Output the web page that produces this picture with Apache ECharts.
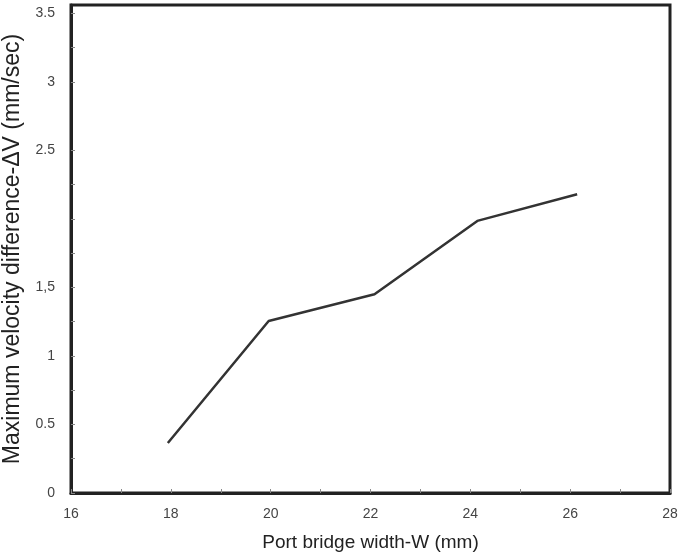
<!DOCTYPE html>
<html>
<head>
<meta charset="utf-8">
<script src="https://cdn.jsdelivr.net/npm/echarts@6/dist/echarts.min.js"></script>
<style>html,body{margin:0;padding:0;background:#fff}#c{width:685px;height:559px}</style>
</head>
<body>
<div id="c"></div>
<script>
const widths = [17.94, 19.96, 22.08, 24.14, 26.14];
const velocityDiff = [0.365, 1.255, 1.45, 1.985, 2.18];
const xTickLabels = [16, 18, 20, 22, 24, 26, 28];
const yTickValues = [0, 0.25, 0.5, 0.75, 1, 1.25, 1.5, 1.75, 2, 2.25, 2.5, 3, 3.25, 3.5];
const yLabelValues = [0, 0.5, 1, 1.5, 2.5, 3, 3.5];
const yLabelText = {0:'0', 0.5:'0.5', 1:'1', 1.5:'1,5', 2.5:'2.5', 3:'3', 3.5:'3.5'};

const chart = echarts.init(document.getElementById('c'));
const font = 'Liberation Sans, Arial, sans-serif';
chart.setOption({
  animation: false,
  grid: {left: 71, right: 15, top: 5, bottom: 66, containLabel: false, outerBoundsMode: 'none',
    show: true, borderColor: '#222', borderWidth: 3, backgroundColor: 'transparent'},
  xAxis: {
    type: 'value', min: 16, max: 28, interval: 1,
    name: 'Port bridge width-W (mm)', nameLocation: 'middle', nameGap: 40,
    nameTextStyle: {fontSize: 19, color: '#222', fontFamily: font},
    axisLine: {show: true, lineStyle: {color: '#222', width: 3}},
    axisTick: {show: true, inside: true, length: 4, lineStyle: {color: '#888', width: 1}},
    axisLabel: {fontSize: 14, color: '#444', fontFamily: font, margin: 14,
      customValues: xTickLabels, formatter: v => String(v)},
    splitLine: {show: false}
  },
  yAxis: {
    type: 'value', min: 0, max: 3.56,
    name: 'Maximum velocity difference-ΔV (mm/sec)', nameLocation: 'middle', nameGap: 45,
    nameTextStyle: {fontSize: 23, color: '#222', fontFamily: font},
    axisLine: {show: true, lineStyle: {color: '#222', width: 3}},
    axisTick: {show: true, inside: true, length: 4, customValues: yTickValues, lineStyle: {color: '#888', width: 1}},
    axisLabel: {fontSize: 14, color: '#444', fontFamily: font, margin: 16,
      customValues: yLabelValues, formatter: v => yLabelText[v] !== undefined ? yLabelText[v] : ''},
    splitLine: {show: false}
  },
  series: [{
    type: 'line',
    data: widths.map((w, i) => [w, velocityDiff[i]]),
    showSymbol: false, symbol: 'none',
    lineStyle: {color: '#333', width: 2.5}
  }]
});
</script>
</body>
</html>
